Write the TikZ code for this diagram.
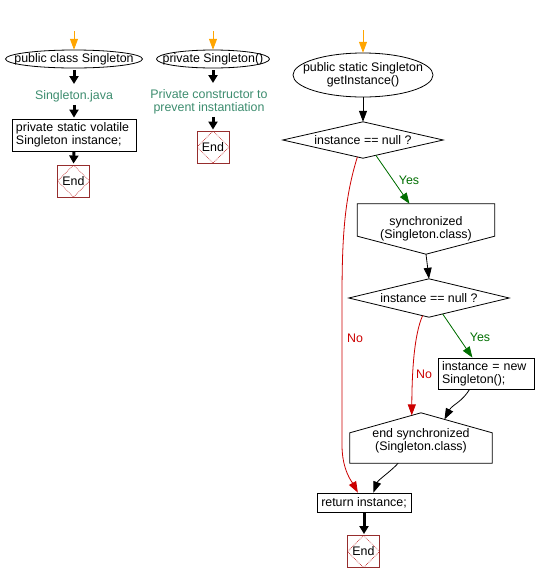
\documentclass[tikz,border=0pt]{standalone}
\usepackage{fontspec}
\setmainfont{Liberation Sans}
\usetikzlibrary{arrows.meta,calc}
\definecolor{lblgreen}{RGB}{60,140,110}
\definecolor{yesgreen}{RGB}{0,110,0}
\definecolor{nored}{RGB}{204,0,0}
\definecolor{endred}{RGB}{150,45,45}
\definecolor{dotred}{RGB}{190,40,40}
\definecolor{startorange}{RGB}{255,165,0}
\begin{document}
\begin{tikzpicture}[x=1pt,y=-1pt,
  every node/.style={font=\fontsize{12.4}{13}\selectfont, inner sep=0pt},
  shapetext/.style={rectangle, align=center},
  box/.style={draw, rectangle, line width=0.8pt, align=left, inner xsep=4pt},
  lbl/.style={text=lblgreen, align=center, inner sep=1pt},
  endbox/.style={draw=endred, line width=0.9pt, minimum size=32pt,
    path picture={\draw[dotred, densely dotted, line width=0.7pt]
      (path picture bounding box.north) -- (path picture bounding box.east) --
      (path picture bounding box.south) -- (path picture bounding box.west) -- cycle;}},
  outline/.style={draw, line width=0.8pt},
  arr/.style={-{Triangle[length=11pt,width=8pt]}, line width=0.8pt},
  stub/.style={-{Triangle[length=8pt,width=9pt]}, line width=3pt},
  startarr/.style={-{Triangle[length=11pt,width=8pt]}, draw=startorange, line width=1pt},
  yesarr/.style={arr, draw=yesgreen, fill=yesgreen},
  noarr/.style={arr, draw=nored},
  yeslbl/.style={text=yesgreen},
  nolbl/.style={text=nored}
]
\useasboundingbox (0,0) rectangle (536,582);

% ---------- column 1 ----------
\coordinate (s1) at (74,31);
\node[shapetext, minimum width=137pt, minimum height=18pt] (c1) at (74,59) {public class Singleton};
\draw[outline] (c1.center) ellipse [x radius=68.5pt, y radius=9pt];
\draw[startarr] (s1) -- (c1.north);
\node[lbl] (j1) at (74,96) {Singleton.java};
\draw[stub, shorten <=2pt, shorten >=5pt] (c1.south) -- (j1.north);
\node[box, text width=116pt, minimum height=32pt] (b1) at (74,135) {private static volatile\\Singleton instance;};
\draw[stub, shorten <=2pt, shorten >=1pt] (j1.south) -- (b1.north);
\node[endbox] (e1) at (73.5,181) {End};
\draw[stub, shorten >=1pt] (b1.south) -- (e1.north);

% ---------- column 2 ----------
\coordinate (s2) at (213,31);
\node[shapetext, minimum width=113pt, minimum height=18pt] (c2) at (213,59) {private Singleton()};
\draw[outline] (c2.center) ellipse [x radius=56.5pt, y radius=9pt];
\draw[startarr] (s2) -- (c2.north);
\node[lbl] (j2) at (209,101.5) {Private constructor to\\prevent instantiation};
\draw[stub, shorten <=2pt, shorten >=5pt] (c2.south) -- (c2.south |- j2.north);
\node[endbox] (e2) at (213,147) {End};
\draw[stub, shorten <=2pt, shorten >=1pt] (j2.south -| e2.north) -- (e2.north);

% ---------- column 3 ----------
\coordinate (s3) at (363,30);
\node[shapetext, minimum width=140pt, minimum height=44pt] (c3) at (363,75) {public static Singleton\\getInstance()};
\draw[outline] (c3.center) ellipse [x radius=70pt, y radius=22pt];
\draw[startarr] (s3) -- (c3.north);

\node[shapetext, minimum width=160pt, minimum height=36pt] (d1) at (363,140) {instance == null ?};
\draw[outline] (d1.west) -- (d1.north) -- (d1.east) -- (d1.south) -- cycle;
\draw[arr] (c3.south) -- (d1.north);

\node[shapetext, minimum width=137pt, minimum height=50pt] (sy) at (426,229) {synchronized\\(Singleton.class)};
\draw[outline] (sy.north west) -- (sy.north east) -- ([yshift=18pt]sy.south east) -- (sy.south)
  -- ([yshift=18pt]sy.south west) -- cycle;
\draw[yesarr] ($(d1.south)!0.16!(d1.east)$) -- ($(sy.north west)!0.38!(sy.north east)$);
\node[yeslbl] (yes1) at (409,180) {Yes};

\node[shapetext, minimum width=160pt, minimum height=38pt] (d2) at (429,298) {instance == null ?};
\draw[outline] (d2.west) -- (d2.north) -- (d2.east) -- (d2.south) -- cycle;
\draw[arr] (sy.south) -- (d2.north);

\node[box, text width=88pt, minimum height=31pt] (in) at (486,373.5) {instance = new\\Singleton();};
\draw[yesarr] ($(d2.south)!0.17!(d2.east)$) -- ($(in.north west)!0.36!(in.north east)$);
\node[yeslbl] (yes2) at (480,337) {Yes};

% end synchronized: text centred lower than the shape's middle
\node[shapetext, minimum width=142pt, minimum height=44pt] (es) at (421,441) {end synchronized\\(Singleton.class)};
\coordinate (esTop) at ([yshift=6pt]es.north);
\coordinate (esL) at ([yshift=-14pt]es.north west);
\coordinate (esR) at ([yshift=-14pt]es.north east);
\draw[outline] (esL) -- (esTop) -- (esR) -- (es.south east) -- (es.south west) -- cycle;

\draw[noarr] ($(d2.south)!0.08!(d2.west)$) .. controls (414,335) and (412,372) .. ($(esTop)!0.13!(esL)$);
\node[nolbl] (no2) at (424,374) {No};

\draw[arr] ($(in.south west)!0.33!(in.south east)$) .. controls (462,402) and (452,405) .. ($(esTop)!0.33!(esR)$);

\node[box, minimum width=94pt, minimum height=19pt, align=center] (ret) at (364,502.5) {return instance;};

\draw[noarr] ($(d1.south)!0.07!(d1.west)$) .. controls (344,200) and (342,240) .. (342,300)
  -- (342,445) .. controls (342,470) and (352,482) .. ($(ret.north west)!0.435!(ret.north east)$);
\node[nolbl] (no1) at (355,338) {No};

\draw[arr] ($(es.south west)!0.34!(es.south east)$) .. controls (390,472) and (378,480) .. ($(ret.north west)!0.6!(ret.north east)$);

\node[endbox] (e3) at (363.5,551.5) {End};
\draw[stub, shorten >=1pt] (ret.south) -- (ret.south |- e3.north);
\end{tikzpicture}
\end{document}
